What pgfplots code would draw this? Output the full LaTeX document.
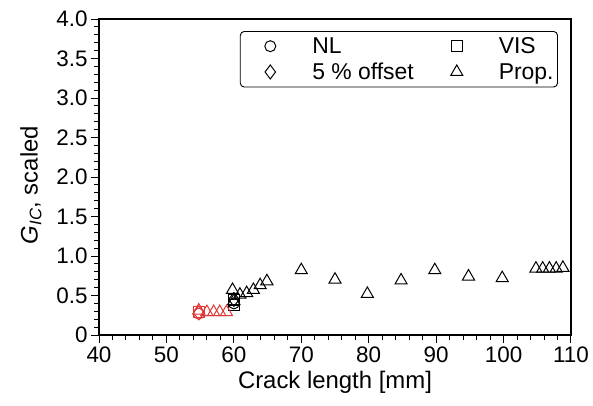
\documentclass[border=0pt]{standalone}
\usepackage{pgfplots}
\pgfplotsset{compat=1.18}
\usepackage{fontspec}
\setmainfont{Liberation Sans}
\definecolor{myred}{rgb}{0.88,0.22,0.22}
\begin{document}
\begin{tikzpicture}
\begin{axis}[
  scale only axis,
  width=472bp, height=316bp,
  xmin=40, xmax=110, ymin=0, ymax=4,
  xtick={40,50,...,110},
  ytick={0,0.5,...,4},
  yticklabels={0,0.5,1.0,1.5,2.0,2.5,3.0,3.5,4.0},
  minor x tick num=4,
  minor y tick num=4,
  tick align=outside,
  tick pos=left,
  major tick length=8bp,
  minor tick length=5bp,
  axis line style={line width=1.1pt},
  every tick/.style={black, line width=1.0pt},
  tick label style={font=\fontsize{22.5}{24}\selectfont},
  label style={font=\fontsize{24}{26}\selectfont},
  /pgf/number format/assume math mode=true,
  xlabel={Crack length [mm]},
  ylabel={{\itshape G}\textsubscript{\itshape IC}, scaled},
  xlabel shift=2bp,
  ylabel shift=8bp,
  ylabel style={xshift=-8bp},
  legend columns=2,
  legend cell align=left,
  legend style={at={(rel axis cs:1,1)}, anchor=north east, xshift=-13bp, yshift=-12bp,
    rounded corners=4pt,
    draw=black, line width=0.9pt, inner xsep=4bp, inner ysep=4.5bp,
    font=\fontsize{23}{24}\selectfont,
    nodes={inner xsep=0pt, inner ysep=1.5bp},
    row sep=5bp,
    /tikz/every even column/.append style={column sep=17bp}},
  legend image code/.code={\path[draw=none,fill=none] (0bp,0bp) -- (68bp,0bp); \draw plot[only marks] coordinates {(26bp,0bp)};},
]
\addplot[only marks, mark=o, mark size=5.5bp, black, line width=1pt] coordinates {(60,0.40)};
\addlegendentry{NL}
\addplot[only marks, mark=square, mark size=5.5bp, black, line width=1pt] coordinates {(60,0.44) (60,0.38)};
\addlegendentry{VIS}
\addplot[only marks, mark=diamond, mark size=7bp, black, line width=1pt] coordinates {(60,0.45)};
\addlegendentry{5 \% offset}
\addplot[only marks, mark=triangle, mark size=7bp, black, line width=1pt] coordinates {
(59.8,0.57) (60,0.43) (60.9,0.51) (61.9,0.53) (62.9,0.57) (63.9,0.63) (64.9,0.68)
(70,0.82) (75,0.70) (79.8,0.52) (84.8,0.69) (89.8,0.82) (94.8,0.74) (99.8,0.72)
(104.8,0.84) (105.8,0.84) (106.8,0.84) (107.8,0.84) (108.8,0.85)};
\addlegendentry{Prop.}
\addplot[only marks, mark=o, mark size=5.5bp, myred, line width=1pt, forget plot] coordinates {(54.8,0.27)};
\addplot[only marks, mark=square, mark size=5.5bp, myred, line width=1pt, forget plot] coordinates {(54.8,0.29)};
\addplot[only marks, mark=diamond, mark size=7bp, myred, line width=1pt, forget plot] coordinates {(54.8,0.28)};
\addplot[only marks, mark=triangle, mark size=7bp, myred, line width=1pt, forget plot] coordinates {
(54.8,0.31) (56,0.29) (57,0.29) (57.9,0.29) (58.9,0.29)};
\end{axis}
\pgfresetboundingbox
\path (current axis.south west) ++(-99bp,-71bp) rectangle ++(593bp,406bp);
\end{tikzpicture}
\end{document}
